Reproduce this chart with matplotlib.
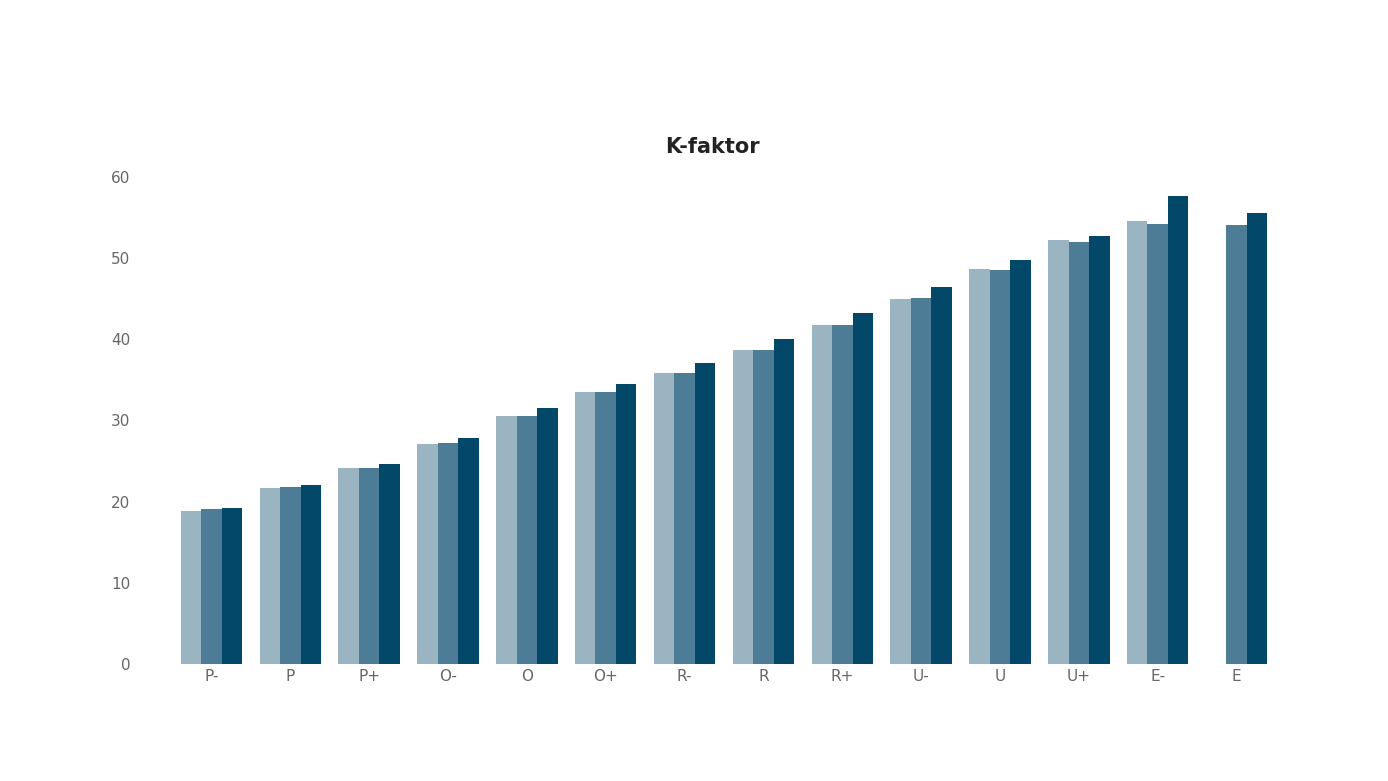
import matplotlib
matplotlib.use("Agg")
import matplotlib.pyplot as plt
import numpy as np

categories = ["P-","P","P+","O-","O","O+","R-","R","R+","U-","U","U+","E-","E"]
s1 = [18.9,21.7,24.1,27.1,30.6,33.5,35.9,38.7,41.8,45.0,48.7,52.2,54.6,np.nan]
s2 = [19.1,21.8,24.2,27.2,30.6,33.5,35.9,38.7,41.8,45.1,48.6,52.0,54.2,54.1]
s3 = [19.2,22.1,24.6,27.8,31.5,34.5,37.1,40.0,43.2,46.4,49.8,52.7,57.7,55.6]
colors = ["#9ab5c1","#4d7d96","#034868"]

fig = plt.figure(figsize=(13.88,7.81), dpi=100)
ax = fig.add_axes([172/1388, 1-664/781, (1276-172)/1388, (664-177)/781])
x = np.arange(len(categories))
w = 0.26
for i,(s,c) in enumerate(zip([s1,s2,s3],colors)):
    ax.bar(x+(i-1)*w, s, w, color=c)
ax.set_xlim(-0.5, len(categories)-0.5)
ax.set_ylim(0,60)
ax.set_yticks(range(0,61,10))
ax.set_xticks(x)
ax.set_xticklabels(categories)
for sp in ax.spines.values():
    sp.set_visible(False)
ax.tick_params(length=0, colors="#666666", labelsize=11)
ax.tick_params(axis='y', pad=30)
fig.text(0.513, 1-147/781, "K-faktor", ha="center", va="center", fontsize=15, fontweight="bold", color="#222222")
fig.savefig("out.png")
